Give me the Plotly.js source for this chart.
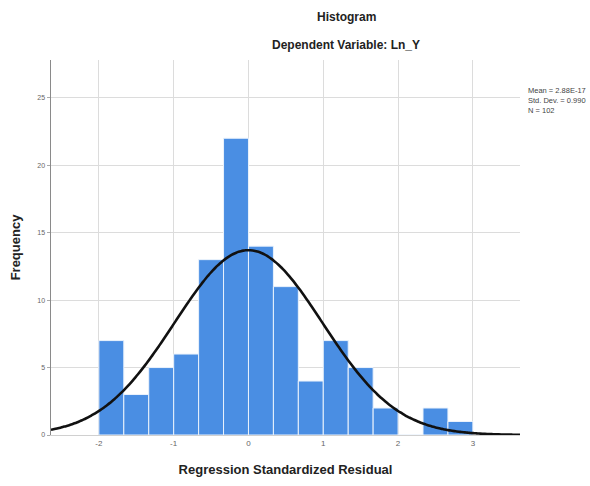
<!DOCTYPE html>
<html>
<head>
<meta charset="utf-8">
<script src="https://cdn.plot.ly/plotly-3.0.1.min.js"></script>
<style>
html,body{margin:0;padding:0;background:#fff;}
#chart{width:590px;height:486px;}
</style>
</head>
<body>
<div id="chart"></div>
<script>
// Histogram bins (midpoints of width 1/3 bins starting at -2) and counts
const binMids = [-1.8333, -1.5, -1.1667, -0.8333, -0.5, -0.1667, 0.1667, 0.5, 0.8333, 1.1667, 1.5, 1.8333, 2.1667, 2.5, 2.8333];
const counts  = [7, 3, 5, 6, 13, 22, 14, 11, 4, 7, 5, 2, 0, 2, 1];
const binWidth = 1 / 3;

// Summary statistics shown in the chart
const statMean = 2.88e-17;
const statSD = 0.990;
const statN = 102;
const statLabels = ["Mean = 2.88E-17", "Std. Dev. = 0.990", "N = 102"];

const xTicks = [-2, -1, 0, 1, 2, 3];
const yTicks = [0, 5, 10, 15, 20, 25];

// Normal curve fitted from the stats (as SPSS draws it)
const xRange = [-2.64, 3.63];
const curveX = [], curveY = [];
for (let i = 0; i <= 200; i++) {
  const x = xRange[0] + (xRange[1] - xRange[0]) * i / 200;
  const z = (x - statMean) / statSD;
  curveX.push(x);
  curveY.push(statN * binWidth / (statSD * Math.sqrt(2 * Math.PI)) * Math.exp(-0.5 * z * z));
}

const data = [
  {
    type: 'bar',
    x: binMids,
    y: counts,
    width: binWidth,
    marker: {color: '#4a8ee3', line: {color: '#eaf2fc', width: 1}},
    hoverinfo: 'x+y'
  },
  {
    type: 'scatter',
    mode: 'lines',
    x: curveX,
    y: curveY,
    line: {color: '#111111', width: 2.6, shape: 'spline'},
    hoverinfo: 'skip'
  }
];

const layout = {
  width: 590,
  height: 486,
  margin: {l: 51, r: 70, t: 60, b: 51},
  paper_bgcolor: '#ffffff',
  plot_bgcolor: '#ffffff',
  showlegend: false,
  bargap: 0,
  font: {family: 'Liberation Sans, Arial, sans-serif', color: '#222'},
  xaxis: {
    range: xRange,
    tickvals: xTicks,
    ticktext: xTicks.map(String),
    tickfont: {size: 8, color: '#666'},
    showgrid: true,
    gridcolor: '#dcdcdc',
    gridwidth: 1,
    zeroline: false,
    showline: true,
    linecolor: '#d0d0d0',
    linewidth: 1,
    ticks: '',
    ticklen: 3,
    title: {text: 'Regression Standardized Residual', font: {size: 13, color: '#222', family: 'Liberation Sans, Arial, sans-serif', weight: 'bold'}, standoff: 18}
  },
  yaxis: {
    range: [0, 27.8],
    tickvals: yTicks,
    ticktext: yTicks.map(String),
    tickfont: {size: 7, color: '#666'},
    showgrid: true,
    gridcolor: '#dcdcdc',
    gridwidth: 1,
    zeroline: false,
    showline: true,
    linecolor: '#8a8a8a',
    linewidth: 1.5,
    ticks: 'outside',
    ticklen: 3,
    tickcolor: '#aaa',
    title: {text: 'Frequency', font: {size: 13, color: '#222', family: 'Liberation Sans, Arial, sans-serif', weight: 'bold'}, standoff: 14}
  },
  annotations: [
    {text: '<b>Histogram</b>', xref: 'paper', yref: 'paper', x: 0.629, y: 1.115, xanchor: 'center', yanchor: 'middle', showarrow: false, font: {size: 12, color: '#222'}},
    {text: '<b>Dependent Variable: Ln_Y</b>', xref: 'paper', yref: 'paper', x: 0.629, y: 1.04, xanchor: 'center', yanchor: 'middle', showarrow: false, font: {size: 12, color: '#222'}},
    {text: statLabels.join('<br>'), xref: 'paper', yref: 'paper', x: 1.013, y: 0.935, xanchor: 'left', yanchor: 'top', align: 'left', showarrow: false, font: {size: 7.5, color: '#444'}}
  ]
};

Plotly.newPlot('chart', data, layout, {displayModeBar: false, staticPlot: true});
</script>
</body>
</html>
